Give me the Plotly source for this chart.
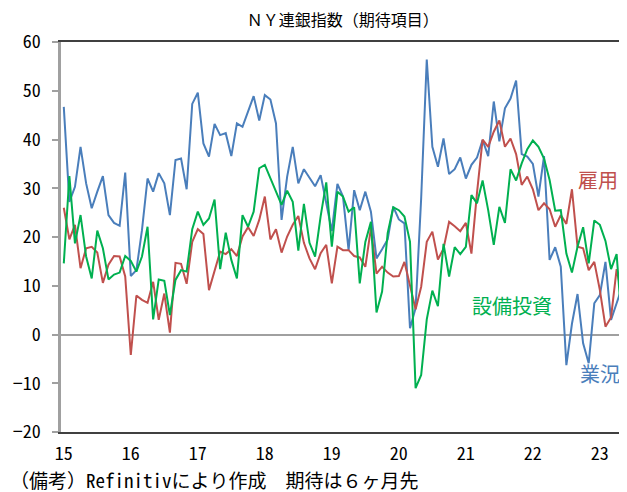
import plotly.graph_objects as go

months = list(range(101))  # 2015-01 .. 2023-05, month index

business = [46.7, 27.2, 30.3, 38.5, 31.0, 25.9, 29.3, 32.5, 24.5, 22.9, 22.3, 33.2,
            12.0, 13.2, 21.4, 32.0, 29.3, 33.1, 31.0, 24.5, 35.8, 36.1, 29.8, 47.3,
            49.6, 39.2, 36.5, 43.2, 40.9, 41.3, 36.6, 43.3, 42.6, 45.7, 48.9, 43.9,
            49.1, 48.2, 43.3, 23.5, 32.4, 38.5, 31.0, 33.9, 32.2, 30.4, 32.7, 26.9,
            21.2, 30.9, 28.3, 17.3, 29.6, 25.5, 29.3, 25.2, 15.6, 17.5, 19.5, 26.2,
            23.6, 22.8, 1.3, 5.4, 28.0, 56.4, 38.5, 34.4, 40.2, 32.9, 33.9, 36.3,
            32.0, 34.8, 36.3, 39.9, 36.6, 47.8, 39.6, 46.4, 48.4, 52.1, 37.0, 36.5,
            35.0, 28.3, 36.6, 15.3, 17.9, 13.9, -6.3, 2.2, 8.3, -1.8, -5.9, 6.4,
            8.1, 14.9, 3.0, 6.4, 9.8]

employment = [26.0, 19.5, 22.5, 13.6, 17.7, 18.0, 16.8, 10.6, 14.3, 16.1, 16.0, 11.9,
              -4.2, 8.0, 7.1, 6.5, 10.8, 3.0, 8.4, 0.4, 14.7, 14.5, 10.4, 19.0,
              21.6, 20.6, 9.1, 13.2, 17.0, 16.5, 17.5, 16.1, 20.1, 22.0, 20.2, 23.5,
              28.3, 19.5, 21.6, 16.8, 20.1, 22.5, 24.3, 18.8, 15.6, 13.4, 16.7, 18.4,
              10.5, 18.0, 17.3, 17.3, 16.1, 15.8, 13.9, 21.8, 12.5, 13.9, 12.7, 11.9,
              12.0, 14.9, 9.8, 5.2, 9.8, 19.0, 21.1, 15.4, 17.6, 23.1, 22.2, 21.2,
              22.9, 16.6, 29.1, 40.0, 38.5, 41.6, 43.9, 38.5, 40.2, 37.0, 30.7, 32.4,
              29.8, 25.5, 26.9, 25.7, 22.1, 24.5, 22.7, 29.8, 18.0, 17.7, 13.2, 14.9,
              9.1, 1.6, 3.5, 13.4, 7.8]

capex = [14.6, 32.5, 18.7, 24.5, 16.0, 11.5, 21.3, 17.7, 11.3, 12.3, 12.7, 16.1,
         15.1, 12.9, 16.0, 22.1, 3.1, 11.3, 11.0, 4.0, 11.2, 13.2, 12.9, 21.6,
         25.2, 22.5, 23.8, 27.7, 13.4, 20.9, 15.3, 11.5, 24.5, 22.1, 25.2, 34.1,
         34.8, 32.0, 29.5, 26.6, 29.5, 27.2, 17.2, 26.8, 18.8, 16.0, 24.3, 31.2,
         18.0, 29.3, 28.3, 25.2, 26.1, 10.5, 19.0, 23.1, 4.5, 8.8, 20.8, 26.1,
         25.5, 24.2, 19.0, -11.0, -8.3, 3.1, 9.0, 5.8, 18.6, 11.9, 17.9, 16.5,
         18.0, 28.6, 26.9, 31.6, 25.5, 18.4, 26.2, 22.9, 33.9, 31.6, 35.1, 38.0,
         39.8, 38.5, 36.1, 31.7, 25.4, 25.5, 16.6, 12.7, 18.0, 22.0, 14.6, 23.4,
         22.5, 19.2, 13.4, 16.5, 0.9]

year_ticks = [0, 12, 24, 36, 48, 60, 72, 84, 96]
year_labels = ["15", "16", "17", "18", "19", "20", "21", "22", "23"]
y_ticks = [-20, -10, 0, 10, 20, 30, 40, 50, 60]

BLUE = "#4A7EBB"
RED = "#C0504D"
GREEN = "#00B050"
FONT = "Noto Sans CJK JP"
MONO = "Noto Sans Mono CJK JP, Noto Sans CJK JP"

fig = go.Figure()
fig.add_trace(go.Scatter(x=months, y=business, mode="lines", name="業況",
                         line=dict(color=BLUE, width=2)))
fig.add_trace(go.Scatter(x=months, y=employment, mode="lines", name="雇用",
                         line=dict(color=RED, width=2)))
fig.add_trace(go.Scatter(x=months, y=capex, mode="lines", name="設備投資",
                         line=dict(color=GREEN, width=2)))

# page body has an 8px margin, so the figure is sized/offset to compensate
fig.update_layout(
    width=619, height=484,
    margin=dict(l=53, r=2, t=34, b=60),
    paper_bgcolor="white", plot_bgcolor="white",
    showlegend=False,
    font=dict(family=FONT, size=16, color="#000000"),
    title=dict(text="ＮＹ連銀指数（期待項目）", x=0.541, xanchor="center",
               y=0.975, yanchor="middle", font=dict(size=16, family=FONT)),
    xaxis=dict(range=[-0.5, 100.5], tickvals=year_ticks, ticktext=year_labels,
               showgrid=False, zeroline=False, ticks="", showline=True,
               linecolor="#404040", linewidth=1.5, mirror=True,
               ticklabelstandoff=5, tickfont=dict(size=18, family=MONO)),
    yaxis=dict(range=[-20, 60], tickvals=y_ticks, showgrid=False,
               zeroline=True, zerolinecolor="#A0A0A0", zerolinewidth=2,
               ticks="outside", ticklen=6, tickcolor="#A0A0A0", tickwidth=1.5,
               showline=True, linecolor="#A0A0A0", linewidth=2.5,
               ticklabelstandoff=8, tickfont=dict(size=18, family=MONO)),
    annotations=[
        dict(x=95.7, y=31.7, xref="x", yref="y", text="雇用", showarrow=False,
             font=dict(color=RED, size=20, family=FONT), xanchor="center"),
        dict(x=80.2, y=6.0, xref="x", yref="y", text="設備投資", showarrow=False,
             font=dict(color=GREEN, size=20, family=FONT), xanchor="center"),
        dict(x=96.1, y=-8.1, xref="x", yref="y", text="業況", showarrow=False,
             font=dict(color=BLUE, size=20, family=FONT), xanchor="center"),
        dict(x=0.0, y=0.0, xref="paper", yref="paper", xshift=-53, yshift=-32,
             text="（備考）Refinitivにより作成　期待は６ヶ月先", showarrow=False,
             xanchor="left", yanchor="top", font=dict(size=19, family=MONO)),
    ],
)

fig.write_html("out.html")
